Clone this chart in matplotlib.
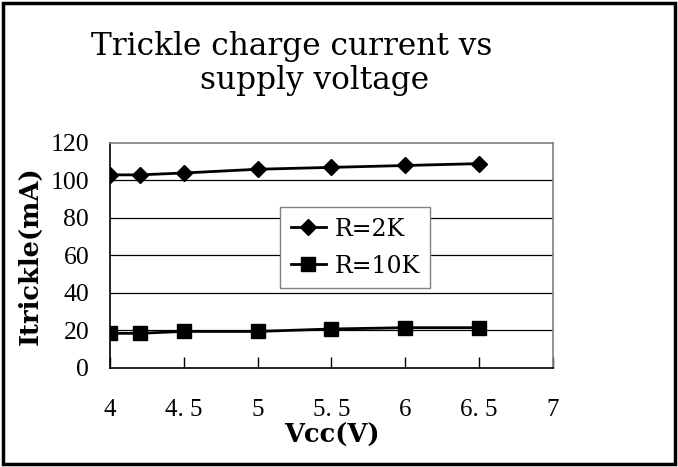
import matplotlib
matplotlib.use('Agg')
import matplotlib.pyplot as plt
from matplotlib.patches import Rectangle

# data
vcc = [4, 4.2, 4.5, 5, 5.5, 6, 6.5]
i_2k = [103, 103, 104, 106, 107, 108, 109]
i_10k = [18.5, 18.5, 19.5, 19.5, 20.8, 21.5, 21.5]
x_ticks = [4, 4.5, 5, 5.5, 6, 6.5, 7]
y_ticks = [0, 20, 40, 60, 80, 100, 120]

txt = 'DejaVu Serif'
serif = 'Liberation Serif'

fig = plt.figure(figsize=(6.78, 4.67), dpi=100)
ax = fig.add_axes([0.1622, 0.212, 0.6534, 0.4818])

ax.plot(vcc, i_2k, color='black', lw=2, marker='D', ms=8, label='R=2K')
ax.plot(vcc, i_10k, color='black', lw=2, marker='s', ms=10, label='R=10K')

ax.set_xlim(4, 7)
ax.set_ylim(0, 120)
ax.set_xticks(x_ticks)
ax.set_xticklabels([f'{t:g}'.replace('.', '. ') for t in x_ticks], fontfamily=serif, fontsize=18)
ax.set_yticks(y_ticks)
ax.set_yticklabels([str(t) for t in y_ticks], fontfamily=serif, fontsize=18.5)
ax.tick_params(axis='x', direction='in', length=8, width=1, pad=22, color='black')
ax.tick_params(axis='y', length=0, pad=15)

for v in y_ticks[1:-1]:
    ax.axhline(v, color='black', lw=0.9, zorder=0)

for s in ['top', 'right']:
    ax.spines[s].set_color('#808080')
    ax.spines[s].set_linewidth(1.2)
for s in ['left', 'bottom']:
    ax.spines[s].set_color('black')
    ax.spines[s].set_linewidth(1.2)

ax.set_xlabel('Vcc(V)', fontfamily=txt, fontweight='bold', fontsize=18.5, labelpad=2)
ax.set_ylabel('Itrickle(mA)', fontfamily=txt, fontweight='bold', fontsize=18.5, labelpad=6)

leg = ax.legend(loc='upper left', bbox_to_anchor=(0.384, 0.716), borderaxespad=0,
                prop={'family': txt, 'size': 17}, fancybox=False, framealpha=1,
                handlelength=1.5, handletextpad=0.35, borderpad=0.45, labelspacing=0.6)
leg.get_frame().set_edgecolor('#808080')
leg.get_frame().set_linewidth(1.0)

fig.text(292 / 678, 1 - 47 / 467, 'Trickle charge current vs', ha='center', va='center',
         fontfamily=txt, fontsize=22.5)
fig.text(315 / 678, 1 - 81 / 467, 'supply voltage', ha='center', va='center',
         fontfamily=txt, fontsize=22.5)

fig.patches.append(Rectangle((0.004, 0.006), 0.992, 0.988, transform=fig.transFigure,
                             fill=False, edgecolor='black', lw=2.5))

fig.savefig('out.png', dpi=100)
